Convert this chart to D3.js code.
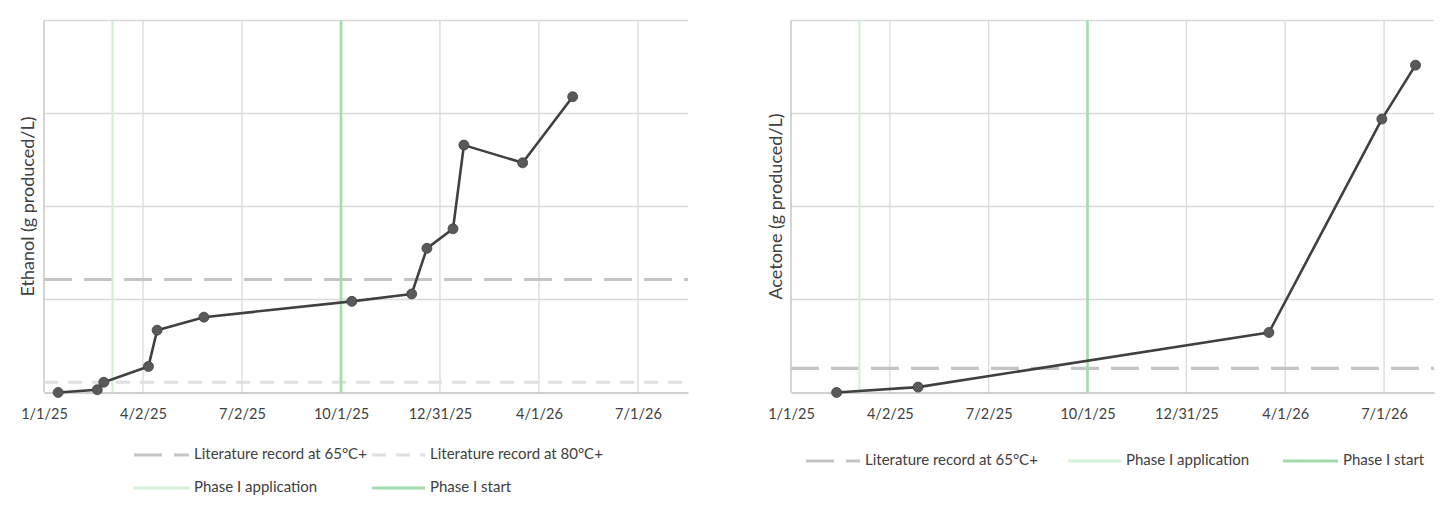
<!DOCTYPE html>
<html>
<head>
<meta charset="utf-8">
<script src="https://cdn.jsdelivr.net/npm/d3@7"></script>
<style>
  html, body { margin: 0; padding: 0; background: #fff; }
  svg { display: block; font-family: Lato, "Open Sans", sans-serif; }
</style>
</head>
<body>
<svg id="chart" width="1456" height="510"></svg>
<script>
// ---------- DATA ----------
const ethanolDates  = ["2025-01-14","2025-02-19","2025-02-25","2025-04-07","2025-04-15","2025-05-28","2025-10-11","2025-12-05","2025-12-19","2026-01-12","2026-01-22","2026-03-17","2026-05-02"];
const ethanolValues = [0, 0.3, 1.1, 2.8, 6.7, 8.1, 9.8, 10.6, 15.5, 17.6, 26.6, 24.7, 31.8];

const acetoneDates  = ["2025-02-12","2025-04-28","2026-03-17","2026-06-29","2026-07-30"];
const acetoneValues = [0, 0.58, 6.45, 29.4, 35.2];

const tickDates  = ["2025-01-01","2025-04-02","2025-07-02","2025-10-01","2025-12-31","2026-04-01","2026-07-01"];
const tickLabels = ["1/1/25","4/2/25","7/2/25","10/1/25","12/31/25","4/1/26","7/1/26"];
const xDomain    = ["2025-01-01","2026-08-16"];
const yTicks     = [0, 10, 20, 30, 40];

const ethanolLit65 = 12.15;
const ethanolLit80 = 1.1;
const acetoneLit65 = 2.6;
const phaseIApplication = "2025-03-05";
const phaseIStart       = "2025-10-01";

const ethanolTitle = "Ethanol (g produced/L)";
const acetoneTitle = "Acetone (g produced/L)";
const legendLabels = {
  lit65: "Literature record at 65°C+",
  lit80: "Literature record at 80°C+",
  app:   "Phase I application",
  start: "Phase I start"
};

// ---------- STYLE ----------
const C = {
  grid: "#d9d9d9", axis: "#bfbfbf", line: "#404040", marker: "#595959",
  lit65: "#c4c4c4", lit80: "#e0e0e0", app: "#d3f1d7", start: "#a3dcaa",
  text: "#404040"
};
const parse = d3.utcParse("%Y-%m-%d");
const svg = d3.select("#chart");

function drawPanel(opts) {
  const { left, right, top, bottom } = opts;
  const x = d3.scaleUtc().domain(xDomain.map(parse)).range([left, right]);
  const y = d3.scaleLinear().domain([0, 40]).range([bottom, top]);
  const g = svg.append("g");

  // horizontal gridlines
  g.append("g").selectAll("line").data(yTicks.filter(t => t > 0)).join("line")
    .attr("x1", left).attr("x2", right)
    .attr("y1", d => y(d)).attr("y2", d => y(d))
    .attr("stroke", C.grid).attr("stroke-width", 1.3);

  // vertical gridlines
  g.append("g").selectAll("line").data(tickDates.slice(1)).join("line")
    .attr("x1", d => x(parse(d))).attr("x2", d => x(parse(d)))
    .attr("y1", top).attr("y2", bottom)
    .attr("stroke", C.grid).attr("stroke-width", 1.3);

  // left axis line
  g.append("line").attr("x1", left).attr("x2", left).attr("y1", top).attr("y2", bottom)
    .attr("stroke", C.axis).attr("stroke-width", 1.3);

  // x axis with tick labels
  const xAxis = d3.axisBottom(x)
    .tickValues(tickDates.map(parse))
    .tickFormat((d, i) => tickLabels[i])
    .tickSize(0).tickPadding(16);
  const ax = g.append("g").attr("transform", `translate(0,${bottom})`).call(xAxis);
  ax.select(".domain").attr("stroke", C.axis).attr("stroke-width", 1.5);
  ax.selectAll("text").attr("fill", C.text).style("font-size", "14.5px")
    .style("font-family", "Lato, sans-serif");

  // y axis (labels hidden in the original)
  const yAxis = d3.axisLeft(y).tickValues(yTicks).tickSize(0).tickFormat("");
  const ay = g.append("g").attr("transform", `translate(${left},0)`).call(yAxis);
  ay.select(".domain").remove();

  // reference dashed lines
  opts.refs.forEach(r => {
    g.append("line").attr("x1", left).attr("x2", right)
      .attr("y1", y(r.value)).attr("y2", y(r.value))
      .attr("stroke", r.color).attr("stroke-width", 3.2)
      .attr("stroke-dasharray", r.dash);
  });

  // phase vertical lines
  [[phaseIApplication, C.app, 2.2], [phaseIStart, C.start, 2.6]].forEach(([d, col, w]) => {
    g.append("line").attr("x1", x(parse(d))).attr("x2", x(parse(d)))
      .attr("y1", top).attr("y2", bottom)
      .attr("stroke", col).attr("stroke-width", w);
  });

  // data
  const pts = opts.dates.map((d, i) => ({ date: parse(d), value: opts.values[i] }));
  const line = d3.line().x(d => x(d.date)).y(d => y(d.value));
  g.append("path").datum(pts).attr("d", line)
    .attr("fill", "none").attr("stroke", C.line).attr("stroke-width", 2.6)
    .attr("stroke-linejoin", "round");
  g.append("g").selectAll("circle").data(pts).join("circle")
    .attr("cx", d => x(d.date)).attr("cy", d => y(d.value)).attr("r", 5)
    .attr("fill", C.marker).attr("stroke", C.line).attr("stroke-width", 0.8);

  // y title
  svg.append("text")
    .attr("transform", `translate(${opts.titleX},${(top + bottom) / 2}) rotate(-90)`)
    .attr("text-anchor", "middle").attr("dominant-baseline", "middle")
    .attr("fill", C.text).style("font-size", "18px")
    .text(opts.title);
}

function legendItem(x0, x1, yy, stroke, dash, label) {
  svg.append("line").attr("x1", x0).attr("x2", x1).attr("y1", yy).attr("y2", yy)
    .attr("stroke", stroke).attr("stroke-width", 3)
    .attr("stroke-dasharray", dash || null);
  svg.append("text").attr("x", x1 + 5).attr("y", yy).attr("dominant-baseline", "middle")
    .attr("fill", C.text).style("font-size", "15px").text(label);
}

drawPanel({
  left: 44, right: 688, top: 20.5, bottom: 392.5, titleX: 29,
  dates: ethanolDates, values: ethanolValues, title: ethanolTitle,
  refs: [
    { value: ethanolLit65, color: C.lit65, dash: "28,12" },
    { value: ethanolLit80, color: C.lit80, dash: "14,10" }
  ]
});
drawPanel({
  left: 791, right: 1434, top: 20.5, bottom: 392.5, titleX: 777,
  dates: acetoneDates, values: acetoneValues, title: acetoneTitle,
  refs: [
    { value: acetoneLit65, color: C.lit65, dash: "28,12" }
  ]
});

// legends
legendItem(134, 189, 455, C.lit65, "28,12", legendLabels.lit65);
legendItem(372, 425, 455, C.lit80, "14,10", legendLabels.lit80);
legendItem(134, 189, 488, C.app, null, legendLabels.app);
legendItem(372, 425, 488, C.start, null, legendLabels.start);

legendItem(806, 860, 461, C.lit65, "28,12", legendLabels.lit65);
legendItem(1068, 1121, 461, C.app, null, legendLabels.app);
legendItem(1283, 1338, 461, C.start, null, legendLabels.start);
</script>
</body>
</html>
